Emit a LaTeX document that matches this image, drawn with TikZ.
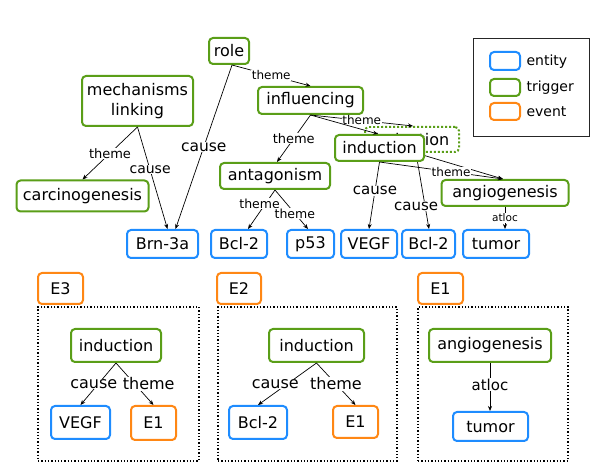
\documentclass[tikz,border=0pt]{standalone}
\usepackage{fontspec}
\setmainfont{DejaVu Sans}
\usetikzlibrary{arrows.meta,calc}
\definecolor{cgreen}{RGB}{90,158,24}
\definecolor{cblue}{RGB}{30,140,255}
\definecolor{corange}{RGB}{255,135,20}
\begin{document}
\begin{tikzpicture}[x=1pt,y=-1pt,
  box/.style={draw,rounded corners=4pt,line width=2pt,fill=white,inner sep=0pt,align=center,font=\fontsize{16}{20}\selectfont},
  ent/.style={box,draw=cblue},
  trig/.style={box,draw=cgreen},
  evt/.style={box,draw=corange},
  sz/.style 2 args={minimum width=#1pt,minimum height=#2pt},
  edge/.style={-{Stealth[length=5pt,width=4pt]},line width=0.7pt},
  lab/.style={fill=white,inner sep=0.6pt,font=\fontsize{#1}{#1}\selectfont},
  panel/.style={draw,dotted,line width=1.3pt,inner sep=0pt},
]
\useasboundingbox (0,0) rectangle (590,462);

% ---------- top graph ----------
\node[trig,sz={40}{26}] (role) at (229,51) {role};
\node[trig,sz={111}{50}] (mech) at (137.5,101) {mechanisms\\linking};
\node[trig,sz={105}{27}] (infl) at (310.5,100.5) {influencing};
\node[trig,sz={94}{25},dotted] (indD) at (412,139.5) {induction};
\node[trig,sz={110}{26}] (antag) at (275,176) {antagonism};
\node[trig,sz={132}{31}] (carc) at (82.5,196) {carcinogenesis};
\node[trig,sz={127}{26}] (angio) at (505,193) {angiogenesis};
\node[ent,sz={71}{28}] (brn) at (162.5,244) {Brn-3a};
\node[ent,sz={56}{28}] (bclA) at (239,244) {Bcl-2};
\node[ent,sz={47}{28}] (p53) at (310.5,244) {p53};
\node[ent,sz={56}{28}] (vegf) at (369,244) {VEGF};
\node[ent,sz={53}{28}] (bclB) at (428.5,244) {Bcl-2};
\node[ent,sz={66}{28}] (tumor) at (496,244) {tumor};

% edges from / to the hidden induction
\draw[edge] (infl.south) -- node[lab=12]{theme} ($(indD.north)+(1,0)$);
\draw[edge] ($(indD.south)+(4,0)$) -- node[lab=15,pos=0.7,xshift=-9pt]{cause} ($(bclB.north)+(0.5,0)$);
\draw[edge] ($(indD.south)+(4,0)$) -- ($(angio.north)+(-2,0)$);

\node[trig,sz={89}{26}] (ind) at (379.5,148) {induction};

\draw[edge] (infl.south) -- ($(ind.north)+(-1.5,0)$);
\draw[edge] ($(role.south)+(3,0)$) -- node[lab=12]{theme} (infl.north);
\draw[edge] ($(role.south)+(3,0)$) -- node[lab=15.5]{cause} ($(brn.north)+(13,0)$);
\draw[edge] (mech.south) -- node[lab=13]{theme} (carc.north);
\draw[edge] (mech.south) -- node[lab=14,pos=0.42]{cause} ($(brn.north)+(5,0)$);
\draw[edge] (infl.south) -- node[lab=13]{theme} ($(antag.north)+(2,0)$);
\draw[edge] (antag.south) -- node[lab=12.5,pos=0.35,xshift=-6pt]{theme} ($(bclA.north)+(9,0)$);
\draw[edge] (antag.south) -- node[lab=12.5,pos=0.6]{theme} ($(p53.north)+(-2.5,0)$);
\draw[edge] (ind.south) -- node[lab=15,pos=0.43]{cause} (vegf.north);
\draw[edge] (ind.south) -- node[lab=12,pos=0.58]{theme} ($(angio.north)+(-2,0)$);
\draw[edge] (angio.south) -- node[lab=10.5]{atloc} (angio.south |- tumor.north);

% ---------- legend ----------
\node[draw=black!85,line width=0.8pt,sz={116}{98}] (legend) at (531,87) {};
\node[ent,sz={30}{18}] (lent) at (505,61) {};
\node[anchor=west,font=\fontsize{14}{16}\selectfont] (tent) at (523,61.5) {entity};
\node[trig,sz={30}{17}] (ltrig) at (505,87.5) {};
\node[anchor=west,font=\fontsize{14}{16}\selectfont] (ttrig) at (523,88) {trigger};
\node[evt,sz={30}{17}] (levt) at (505,111.5) {};
\node[anchor=west,font=\fontsize{14}{16}\selectfont] (tevt) at (523,112) {event};

% ---------- panel E3 ----------
\node[evt,sz={45}{31}] (lE3) at (60.5,288.5) {E3};
\node[panel,sz={161}{154}] (pE3) at (118.5,384) {};
\node[trig,sz={90}{33}] (i3) at (116,345.5) {induction};
\node[ent,sz={59}{33}] (v3) at (80.5,422.5) {VEGF};
\node[evt,sz={45}{34}] (e13) at (153.5,423) {E1};
\draw[edge] (i3.south) -- node[lab=16,xshift=-4.5pt]{cause} (v3.north);
\draw[edge] (i3.south) -- node[lab=16,xshift=14pt]{theme} (e13.north);

% ---------- panel E2 ----------
\node[evt,sz={44}{31}] (lE2) at (239,288.5) {E2};
\node[panel,sz={179}{154}] (pE2) at (307.5,384) {};
\node[trig,sz={95}{33}] (i2) at (316.5,345.5) {induction};
\node[ent,sz={58}{33}] (b2) at (258,422.5) {Bcl-2};
\node[evt,sz={45}{32}] (e12) at (355.5,422) {E1};
\draw[edge] (i2.south) -- node[lab=16,xshift=-12pt]{cause} (b2.north);
\draw[edge] (i2.south) -- node[lab=16]{theme} (e12.north);

% ---------- panel E1 ----------
\node[evt,sz={45}{31}] (lE1) at (440.5,288.5) {E1};
\node[panel,sz={150}{154}] (pE1) at (493,384) {};
\node[trig,sz={122}{33}] (a1) at (490,345.5) {angiogenesis};
\node[ent,sz={75}{29}] (t1) at (490.5,426.5) {tumor};
\draw[edge] (a1.south) -- node[lab=15,pos=0.45]{atloc} (a1.south |- t1.north);
\end{tikzpicture}
\end{document}
